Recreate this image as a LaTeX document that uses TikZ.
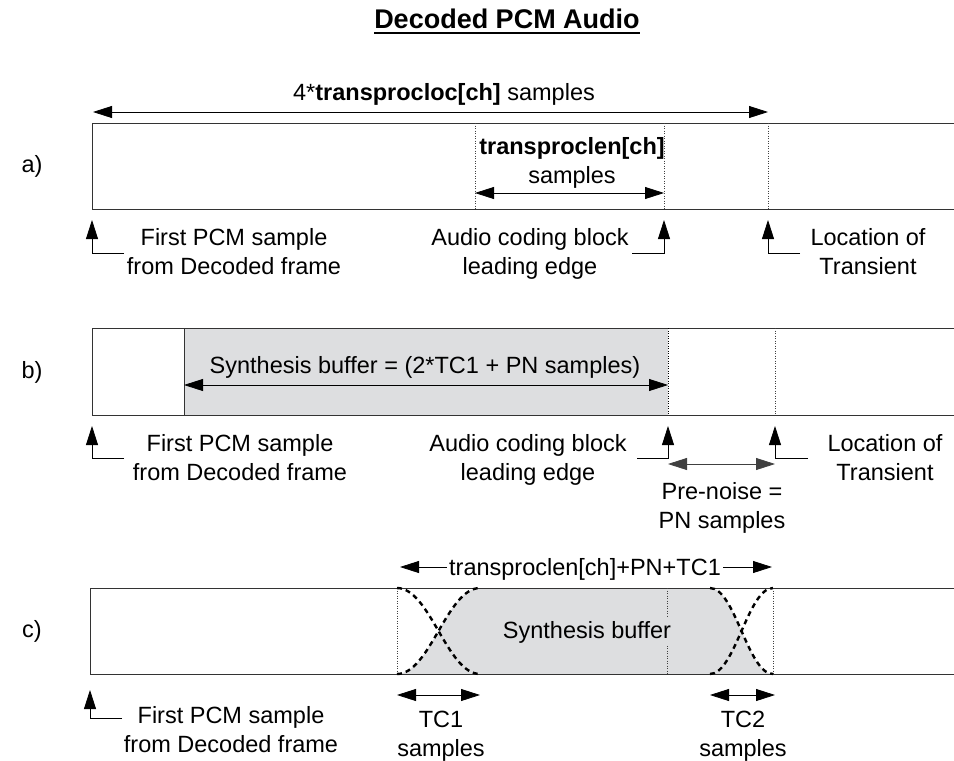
\documentclass[tikz,border=0pt]{standalone}
\usepackage{fontspec}
\setmainfont{Liberation Sans}
\usetikzlibrary{
    arrows.meta,            % Triangle tips.
    positioning
}
\definecolor{bufgray}{RGB}{221,222,224}
\tikzset{
    lbl/.style={inner sep=0pt, align=center},
    box/.style={line width=0.9pt, draw=black!80},
    edgeline/.style={dash pattern=on 1pt off 1.5pt, line width=0.6pt, draw=black!75},
    dim/.style={<->, line width=0.8pt},
    ptr/.style={->, line width=0.8pt},
    fade/.style={line width=2.4pt, dash pattern=on 5pt off 4pt},
}

\begin{document}
\begin{tikzpicture}[>={Triangle[length=19pt, width=12pt]}, x=1pt, y=-1pt,
        font=\fontsize{23.5}{29}\selectfont]
    \useasboundingbox (0,0) rectangle (954,761);

    % title
    \node[lbl, anchor=base, font=\fontsize{27}{32}\selectfont\bfseries]
        (title) at (507,28) {Decoded PCM Audio};
    \draw[line width=2pt] ([yshift=-5pt]title.base west)
        -- ([yshift=-5pt]title.base east);

    % ---------- a) ----------
    \node[lbl] (rowa) at (32,166) {a)};
    \draw[box] (954,123) -- (92,123) -- (92,209) -- (954,209);
    \draw[edgeline] (475,123) -- (475,209);
    \draw[edgeline] (664,123) -- (664,209);
    \draw[edgeline] (768,123) -- (768,209);
    \coordinate (a-l) at (93,112);
    \coordinate (a-r) at (768,112);
    \draw[dim] (a-l) -- (a-r);
    \node[lbl, anchor=base] (a-total) at (444,100)
        {4*\textbf{transprocloc[ch]} samples};
    \coordinate (a-len-l) at (475,193);
    \coordinate (a-len-r) at (664,193);
    \draw[dim] (a-len-l) -- (a-len-r);
    \node[lbl] (a-len) at (572,163) {\textbf{transproclen[ch]}\\samples};
    \coordinate (a-first) at (92,220);
    \coordinate (a-first-foot) at (124,253);
    \coordinate (a-lead) at (664,220);
    \coordinate (a-lead-foot) at (632,253);
    \coordinate (a-trans) at (768,220);
    \coordinate (a-trans-foot) at (800,253);
    \draw[ptr] (a-first-foot) -| (a-first);
    \draw[ptr] (a-lead-foot) -| (a-lead);
    \draw[ptr] (a-trans-foot) -| (a-trans);
    \node[lbl] (a-first-txt) at (234,252) {First PCM sample\\from Decoded frame};
    \node[lbl] (a-lead-txt) at (530,254) {Audio coding block\\leading edge};
    \node[lbl] (a-trans-txt) at (868,252) {Location of\\Transient};

    % ---------- b) ----------
    \node[lbl] (rowb) at (32,372) {b)};
    \fill[bufgray] (184,328) rectangle (668,415);
    \draw[box] (954,328) -- (92,328) -- (92,415) -- (954,415);
    \draw[line width=0.6pt, black!80] (184,328) -- (184,415);
    \draw[edgeline, line width=1pt, black] (668,328) -- (668,415);
    \draw[edgeline] (775,328) -- (775,415);
    \coordinate (b-buf-l) at (184,385);
    \coordinate (b-buf-r) at (668,385);
    \draw[dim] (b-buf-l) -- (b-buf-r);
    \node[lbl, anchor=base] (b-buf) at (425,373)
        {Synthesis buffer = (2*TC1 + PN samples)};
    \coordinate (b-first) at (92,426);
    \coordinate (b-first-foot) at (124,458);
    \coordinate (b-lead) at (668,426);
    \coordinate (b-lead-foot) at (637,458);
    \coordinate (b-trans) at (775,426);
    \coordinate (b-trans-foot) at (808,458);
    \draw[ptr] (b-first-foot) -| (b-first);
    \draw[ptr] (b-lead-foot) -| (b-lead);
    \draw[ptr] (b-trans-foot) -| (b-trans);
    \coordinate (b-pn-l) at (668,464);
    \coordinate (b-pn-r) at (775,464);
    \draw[dim, black!75] (b-pn-l) -- (b-pn-r);
    \node[lbl] (b-first-txt) at (240,458) {First PCM sample\\from Decoded frame};
    \node[lbl] (b-lead-txt) at (528,460) {Audio coding block\\leading edge};
    \node[lbl] (b-trans-txt) at (885,458) {Location of\\Transient};
    \node[lbl] (b-pn) at (722,508) {Pre-noise =\\PN samples};

    % ---------- c) ----------
    \node[lbl] (rowc) at (32,631) {c)};
    \fill[bufgray] (397,674) .. controls (430,674) and (447,588) .. (480,588)
        -- (710,588) .. controls (735,588) and (748,674) .. (773,674) -- cycle;
    \draw[box] (954,588) -- (90,588) -- (90,674) -- (954,674);
    \draw[edgeline] (397,588) -- (397,674);
    \draw[edgeline] (667,588) -- (667,674);
    \draw[edgeline] (773,588) -- (773,674);
    \draw[fade] (397,674) .. controls (430,674) and (447,588) .. (480,588);
    \draw[fade] (397,588) .. controls (430,588) and (447,674) .. (480,674);
    \draw[fade] (710,588) .. controls (735,588) and (748,674) .. (773,674);
    \draw[fade] (710,674) .. controls (735,674) and (748,588) .. (773,588);
    \node[lbl, anchor=base, fill=bufgray, inner sep=3pt] (c-buf) at (587,638)
        {Synthesis buffer};
    \coordinate (c-top-l) at (400,567);
    \coordinate (c-top-r) at (772,567);
    \draw[dim] (c-top-l) -- (c-top-r);
    \node[lbl, anchor=base, fill=white, inner sep=2pt] (c-top) at (585,575)
        {transproclen[ch]+PN+TC1};
    \coordinate (c-tc1-l) at (397,695);
    \coordinate (c-tc1-r) at (480,695);
    \draw[dim] (c-tc1-l) -- (c-tc1-r);
    \coordinate (c-tc2-l) at (710,695);
    \coordinate (c-tc2-r) at (775,695);
    \draw[dim] (c-tc2-l) -- (c-tc2-r);
    \node[lbl] (c-tc1) at (441,736) {TC1\\samples};
    \node[lbl] (c-tc2) at (743,736) {TC2\\samples};
    \coordinate (c-first) at (90,690);
    \coordinate (c-first-foot) at (122,718);
    \draw[ptr] (c-first-foot) -| (c-first);
    \node[lbl] (c-first-txt) at (231,730) {First PCM sample\\from Decoded frame};
\end{tikzpicture}
\end{document}
